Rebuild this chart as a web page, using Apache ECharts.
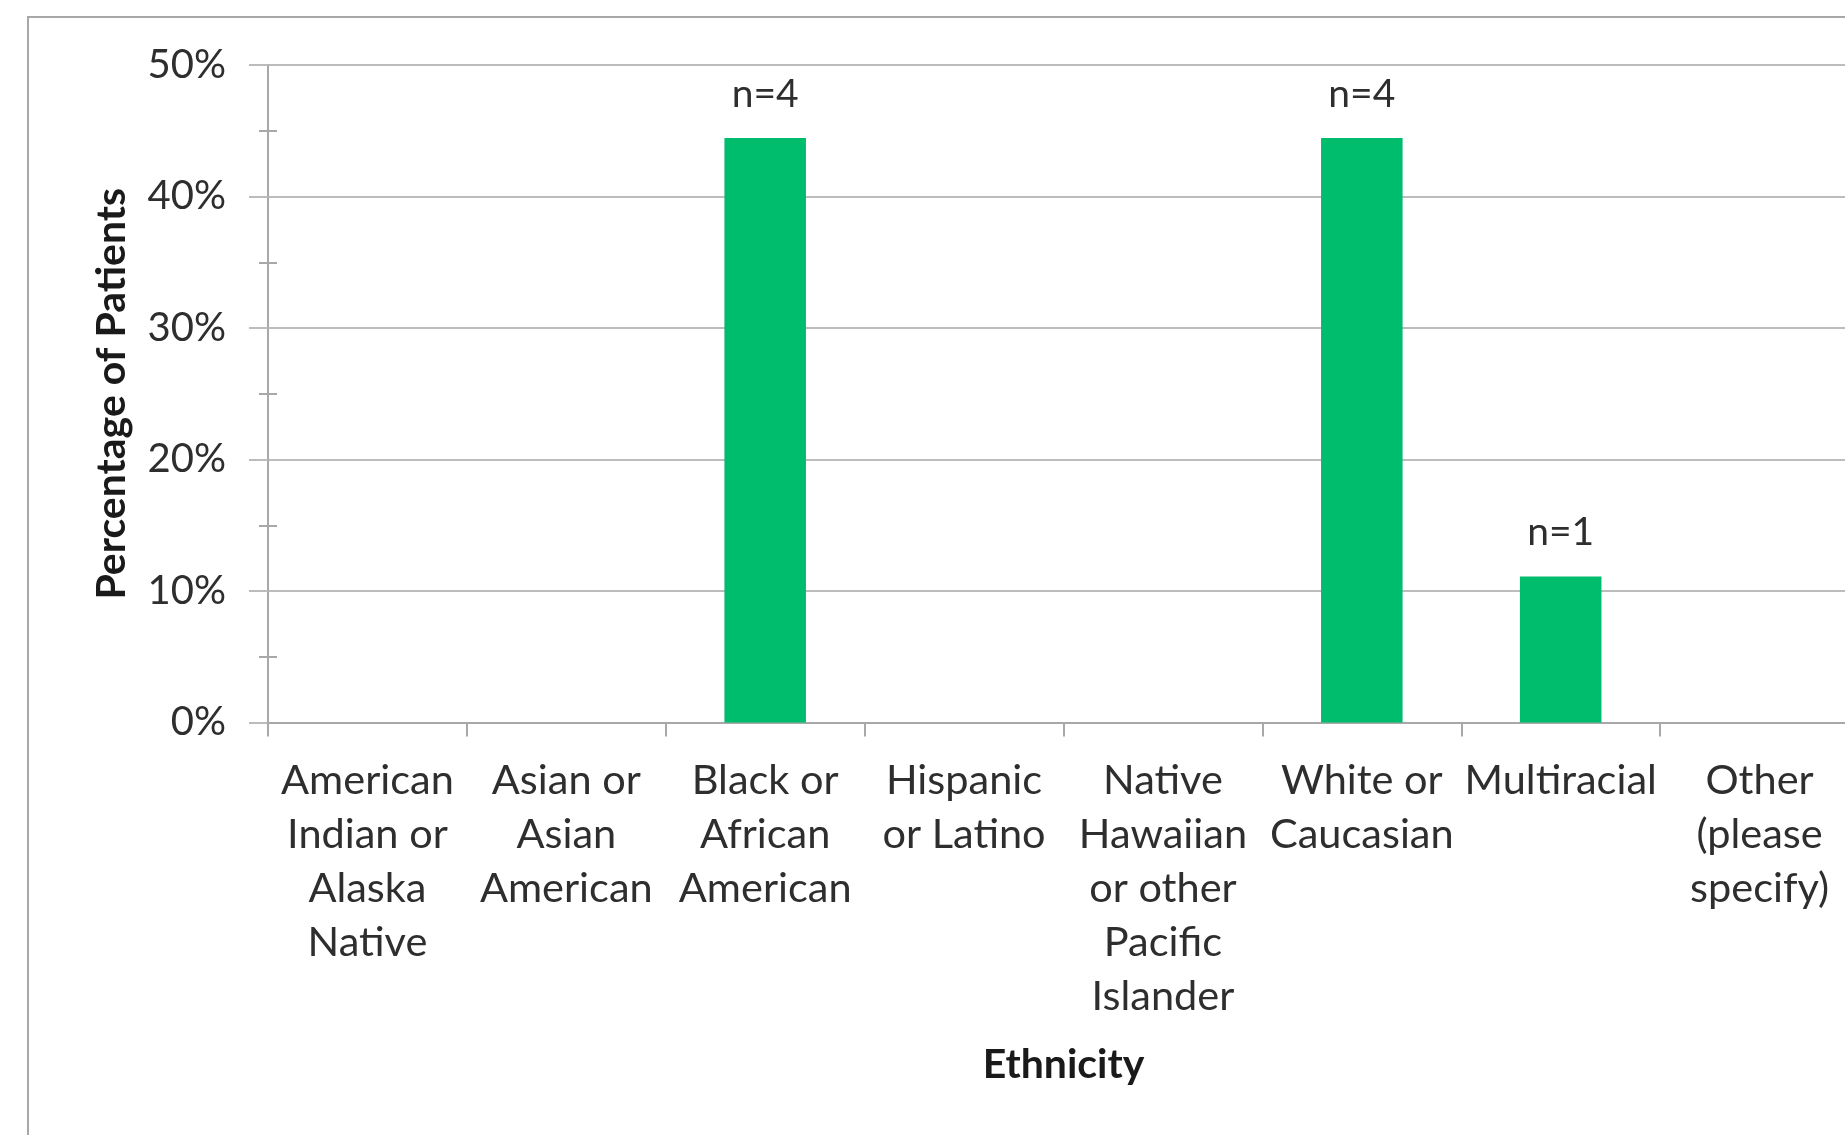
<!DOCTYPE html>
<html>
<head>
<meta charset="utf-8">
<title>Ethnicity</title>
<script src="https://cdn.jsdelivr.net/npm/echarts@6/dist/echarts.min.js"></script>
<style>
  html, body { margin: 0; padding: 0; background: #ffffff; overflow: hidden; }
  #frame {
    position: absolute; left: 27px; top: 16px;
    width: 2000px; height: 2000px;
    border-left: 2px solid #a8a8a8; border-top: 2px solid #a8a8a8;
  }
  #chart { position: absolute; left: 0; top: 0; width: 1845px; height: 1135px; }
</style>
</head>
<body>
<div id="frame"></div>
<div id="chart"></div>
<script>
// Patients by ethnicity (counts per group)
const categories = [
  'American\nIndian or\nAlaska\nNative',
  'Asian or\nAsian\nAmerican',
  'Black or\nAfrican\nAmerican',
  'Hispanic\nor Latino',
  'Native\nHawaiian\nor other\nPacific\nIslander',
  'White or\nCaucasian',
  'Multiracial',
  'Other\n(please\nspecify)'
];
const patientCounts = [0, 0, 4, 0, 0, 4, 1, 0];
const yTicks = [0, 0.1, 0.2, 0.3, 0.4, 0.5];

const totalPatients = patientCounts.reduce((a, b) => a + b, 0);
const shares = patientCounts.map(n => n / totalPatients);

const FONT = 'Lato, "Open Sans", sans-serif';
const TEXT = '#2e2e2e';
const GRID = '#bcbcbc';
const AXIS = '#a8a8a8';

const chart = echarts.init(document.getElementById('chart'), null, { renderer: 'canvas' });

chart.setOption({
  backgroundColor: 'transparent',
  animation: false,
  textStyle: { fontFamily: FONT },
  grid: {
    left: 268, top: 65, width: 1591, height: 657.5,
    containLabel: false,
    outerBoundsMode: 'none'
  },
  xAxis: {
    type: 'category',
    data: categories,
    name: 'Ethnicity',
    nameLocation: 'middle',
    nameGap: 322,
    nameTextStyle: { fontFamily: FONT, fontSize: 41, fontWeight: 'bold', color: '#1a1a1a' },
    axisLine: { show: true, lineStyle: { color: AXIS, width: 2 } },
    axisTick: { show: true, interval: 0, alignWithLabel: false, length: 14, lineStyle: { color: AXIS, width: 2 } },
    axisLabel: {
      interval: 0, margin: 31,
      fontFamily: FONT, fontSize: 41.5, lineHeight: 54, color: TEXT, align: 'center'
    },
    splitLine: { show: false }
  },
  yAxis: [
    {
      type: 'value',
      min: 0, max: 0.5, interval: 0.1,
      name: 'Percentage of Patients',
      nameLocation: 'middle',
      nameRotate: 90,
      nameGap: 136,
      nameTextStyle: { fontFamily: FONT, fontSize: 41, fontWeight: 'bold', color: '#1a1a1a' },
      axisLine: { show: true, lineStyle: { color: AXIS, width: 2 } },
      axisTick: { show: true, length: 19, lineStyle: { color: GRID, width: 2 } },
      minorTick: { show: true, splitNumber: 2, length: 9, lineStyle: { color: AXIS, width: 2 } },
      axisLabel: {
        margin: 42, fontFamily: FONT, fontSize: 40, color: TEXT,
        customValues: yTicks,
        formatter: v => Math.round(v * 100) + '%'
      },
      splitLine: { show: true, lineStyle: { color: GRID, width: 2 } }
    },
    {
      // second copy of the value axis: minor ticks pointing into the plot
      type: 'value',
      min: 0, max: 0.5, interval: 0.1,
      position: 'left',
      axisLine: { show: false },
      axisTick: { show: false, inside: true },
      minorTick: { show: true, splitNumber: 2, length: 9, lineStyle: { color: AXIS, width: 2 } },
      axisLabel: { show: false },
      splitLine: { show: false }
    }
  ],
  series: [{
    type: 'bar',
    yAxisIndex: 0,
    data: shares,
    barWidth: '41%',
    itemStyle: { color: '#00bd6d' },
    label: {
      show: true,
      position: 'top',
      distance: 24,
      fontFamily: FONT, fontSize: 39, color: TEXT,
      formatter: p => patientCounts[p.dataIndex] > 0 ? 'n=' + patientCounts[p.dataIndex] : ''
    }
  }]
});
</script>
</body>
</html>
